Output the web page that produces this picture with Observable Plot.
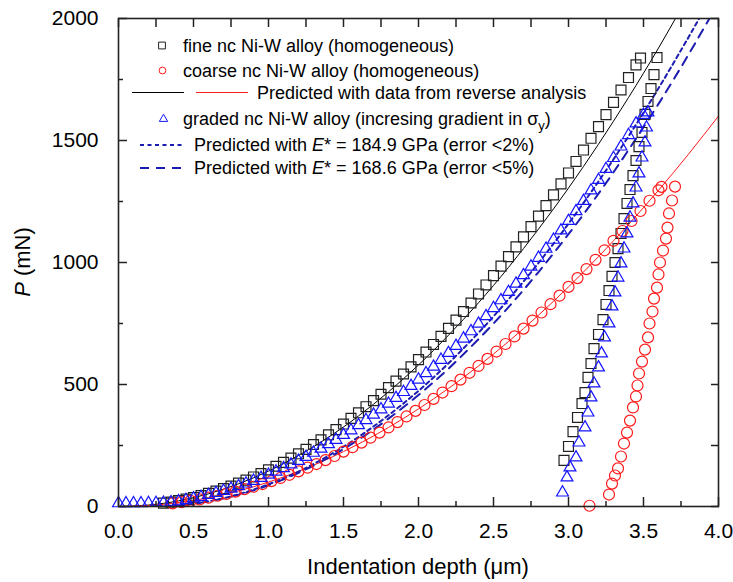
<!DOCTYPE html>
<html><head><meta charset="utf-8">
<script src="https://cdn.jsdelivr.net/npm/d3@7"></script>
<script src="https://cdn.jsdelivr.net/npm/@observablehq/plot@0.6"></script>
<style>
body{margin:0;background:#fff;}
#chart svg{display:block;}
</style></head><body><div id="chart"></div>
<script>
// ---- data: [indentation depth (µm), load P (mN)] ----
const fineLoading = [[0.30,14],[0.35,18],[0.40,24],[0.45,30],[0.50,37],[0.55,45],[0.60,54],[0.65,63],[0.70,73],[0.75,84],[0.80,96],[0.85,108],[0.90,121],[0.95,135],[1.00,150],[1.05,165],[1.10,181],[1.15,198],[1.20,216],[1.25,234],[1.30,254],[1.35,273],[1.40,294],[1.45,315],[1.50,338],[1.55,361],[1.60,384],[1.65,409],[1.70,434],[1.75,460],[1.80,487],[1.85,514],[1.90,543],[1.95,572],[2.00,602],[2.05,633],[2.10,664],[2.15,697],[2.20,730],[2.25,764],[2.30,799],[2.35,834],[2.40,871],[2.45,908],[2.50,946],[2.55,985],[2.60,1024],[2.65,1064],[2.70,1105],[2.75,1147],[2.80,1190],[2.85,1233],[2.90,1277],[2.95,1322],[3.00,1367],[3.05,1414],[3.10,1461],[3.15,1509],[3.20,1557],[3.25,1606],[3.30,1656],[3.35,1707],[3.40,1758],[3.45,1810],[3.48,1838]];
const fineUnloading = [[3.59,1840],[3.57,1770],[3.55,1713],[3.53,1660],[3.51,1607],[3.49,1533],[3.47,1475],[3.45,1418],[3.43,1356],[3.41,1299],[3.39,1242],[3.37,1180],[3.35,1119],[3.33,1057],[3.31,1000],[3.29,943],[3.27,885],[3.25,828],[3.23,766],[3.20,705],[3.17,647],[3.15,586],[3.13,529],[3.11,467],[3.09,422],[3.06,365],[3.03,307],[3.00,246],[2.97,189]];
const coarseLoading = [[0.36,13],[0.42,18],[0.48,23],[0.54,29],[0.60,36],[0.66,44],[0.72,52],[0.78,61],[0.84,71],[0.90,81],[0.96,92],[1.02,104],[1.08,117],[1.14,130],[1.20,144],[1.26,159],[1.32,174],[1.38,190],[1.44,207],[1.50,225],[1.56,243],[1.62,262],[1.68,282],[1.74,303],[1.80,324],[1.86,346],[1.92,369],[1.98,392],[2.04,416],[2.10,441],[2.16,467],[2.22,493],[2.28,520],[2.34,548],[2.40,576],[2.46,605],[2.52,635],[2.58,666],[2.64,697],[2.70,729],[2.76,762],[2.82,795],[2.88,829],[2.94,864],[3.00,900],[3.06,936],[3.12,973],[3.18,1011],[3.24,1050],[3.30,1089],[3.36,1129],[3.42,1170],[3.48,1211],[3.54,1253],[3.60,1296],[3.62,1310]];
const coarseUnloading = [[3.71,1311],[3.69,1254],[3.67,1201],[3.66,1143],[3.65,1098],[3.63,1049],[3.61,1000],[3.60,951],[3.59,897],[3.57,852],[3.56,799],[3.54,750],[3.53,693],[3.51,643],[3.49,594],[3.47,545],[3.46,496],[3.45,451],[3.43,406],[3.41,352],[3.39,303],[3.37,258],[3.35,205],[3.33,156],[3.31,127],[3.29,94],[3.27,49],[3.14,3]];
const gradedLoading = [[0.00,13],[0.05,13],[0.10,13],[0.15,13],[0.20,14],[0.25,14],[0.30,15],[0.35,17],[0.40,21],[0.45,26],[0.50,33],[0.55,39],[0.60,47],[0.65,55],[0.70,64],[0.75,73],[0.80,83],[0.85,94],[0.90,105],[0.95,117],[1.00,130],[1.05,143],[1.10,157],[1.15,172],[1.20,187],[1.25,203],[1.30,220],[1.35,237],[1.40,255],[1.45,273],[1.50,293],[1.55,312],[1.60,333],[1.65,354],[1.70,376],[1.75,398],[1.80,421],[1.85,445],[1.90,469],[1.95,494],[2.00,520],[2.05,546],[2.10,573],[2.15,601],[2.20,629],[2.25,658],[2.30,688],[2.35,718],[2.40,749],[2.45,780],[2.50,813],[2.55,845],[2.60,879],[2.65,913],[2.70,948],[2.75,983],[2.80,1019],[2.85,1056],[2.90,1093],[2.95,1131],[3.00,1170],[3.05,1210],[3.10,1252],[3.15,1295],[3.20,1338],[3.25,1383],[3.30,1428],[3.35,1475],[3.40,1522],[3.45,1570],[3.50,1605]];
const gradedUnloading = [[3.53,1615],[3.52,1553],[3.51,1492],[3.49,1430],[3.47,1365],[3.45,1307],[3.43,1242],[3.41,1184],[3.39,1119],[3.37,1057],[3.35,996],[3.33,938],[3.31,877],[3.29,820],[3.27,750],[3.24,693],[3.22,627],[3.20,570],[3.17,504],[3.15,447],[3.13,385],[3.11,324],[3.07,262],[3.05,201],[3.01,160],[2.99,119],[2.96,57]];
const fineReverse = [[0,0],[0.2,6],[0.4,23],[0.6,52],[0.8,93],[1.0,145],[1.2,209],[1.4,284],[1.6,371],[1.8,470],[2.0,580],[2.2,702],[2.4,835],[2.6,980],[2.8,1137],[3.0,1305],[3.2,1485],[3.4,1676],[3.6,1879],[3.8,2094]];
const coarseReverse = [[0,0],[0.2,4],[0.4,16],[0.6,36],[0.8,64],[1.0,100],[1.2,144],[1.4,196],[1.6,256],[1.8,324],[2.0,400],[2.2,484],[2.4,576],[2.6,676],[2.8,784],[3.0,900],[3.2,1024],[3.4,1156],[3.6,1296],[3.8,1444],[4.0,1600]];
const predE1849 = [[0.22,0],[0.4,5],[0.6,21],[0.8,50],[1.0,91],[1.2,143],[1.4,208],[1.6,285],[1.8,374],[2.0,474],[2.2,587],[2.4,712],[2.6,849],[2.8,998],[3.0,1159],[3.2,1332],[3.4,1517],[3.6,1714],[3.8,1923],[3.9,2032]];
const predE1686 = [[0.22,0],[0.4,5],[0.6,21],[0.8,48],[1.0,87],[1.2,138],[1.4,200],[1.6,274],[1.8,360],[2.0,457],[2.2,565],[2.4,686],[2.6,817],[2.8,961],[3.0,1116],[3.2,1282],[3.4,1461],[3.6,1650],[3.8,1852],[4.0,2065]];
const xMajorTicks = [0, 0.5, 1.0, 1.5, 2.0, 2.5, 3.0, 3.5, 4.0];
const xMinorTicks = [0.25, 0.75, 1.25, 1.75, 2.25, 2.75, 3.25, 3.75];
const yMajorTicks = [0, 500, 1000, 1500, 2000];
const yMinorTicks = [250, 750, 1250, 1750];
const legendLabels = [
  "fine nc Ni-W alloy (homogeneous)",
  "coarse nc Ni-W alloy (homogeneous)",
  "Predicted with data from reverse analysis",
  "graded nc Ni-W alloy (incresing gradient in σ",
  "* = 184.9 GPa (error <2%)",
  "* = 168.6 GPa (error <5%)"
];

const BLUE = "#1c1cb0", RED = "#ff1a1a", DARK = "#222";
const X = d => d[0], Y = d => d[1];
const font = "'Liberation Sans', Arial, sans-serif";

const plot = Plot.plot({
  width: 733, height: 582,
  marginLeft: 118, marginRight: 15, marginTop: 18, marginBottom: 76,
  style: {fontFamily: font, background: "#fff", color: "#000"},
  x: {domain: [0, 4]},
  y: {domain: [0, 2000]},
  marks: [
    Plot.line(fineReverse, {x: X, y: Y, stroke: "#000", strokeWidth: 1, curve: "natural", clip: true}),
    Plot.line(coarseReverse, {x: X, y: Y, stroke: RED, strokeWidth: 1, curve: "natural", clip: true}),
    Plot.line(predE1849, {x: X, y: Y, stroke: BLUE, strokeWidth: 2, strokeDasharray: "4,3.5", curve: "natural", clip: true}),
    Plot.line(predE1686, {x: X, y: Y, stroke: BLUE, strokeWidth: 2, strokeDasharray: "9,7", curve: "natural", clip: true}),
    Plot.dot(fineLoading.concat(fineUnloading), {x: X, y: Y, symbol: "square", r: 5.6, stroke: DARK, strokeWidth: 1.2, fill: "none"}),
    Plot.dot(coarseLoading.concat(coarseUnloading), {x: X, y: Y, symbol: "circle", r: 5.5, stroke: RED, strokeWidth: 1.2, fill: "none"}),
    Plot.dot(gradedLoading.concat(gradedUnloading), {x: X, y: Y, symbol: "triangle", r: 4.4, stroke: "#1414ff", strokeWidth: 1.2, fill: "none"}),
    Plot.frame({stroke: DARK, strokeWidth: 1.6}),
    Plot.axisX(xMajorTicks, {anchor: "bottom", tickSize: -9, tickPadding: 26, tickFormat: d3.format(".1f"), fontSize: 21, stroke: DARK, strokeWidth: 1.5, label: null}),
    Plot.axisX(xMinorTicks, {anchor: "bottom", tickSize: -5, fill: "none", stroke: DARK, strokeWidth: 1.5, label: null}),
    Plot.axisX(xMajorTicks, {anchor: "top", tickSize: -8, fill: "none", stroke: DARK, strokeWidth: 1.5, label: null}),
    Plot.axisX(xMinorTicks, {anchor: "top", tickSize: -8, fill: "none", stroke: DARK, strokeWidth: 1.5, label: null}),
    Plot.axisY(yMajorTicks, {anchor: "left", tickSize: -9, tickPadding: 29, tickFormat: d3.format("d"), fontSize: 21, stroke: DARK, strokeWidth: 1.5, label: null}),
    Plot.axisY(yMinorTicks, {anchor: "left", tickSize: -5, fill: "none", stroke: DARK, strokeWidth: 1.5, label: null}),
    Plot.axisY(yMajorTicks, {anchor: "right", tickSize: -8, fill: "none", stroke: DARK, strokeWidth: 1.5, label: null}),
    Plot.axisY(yMinorTicks, {anchor: "right", tickSize: -8, fill: "none", stroke: DARK, strokeWidth: 1.5, label: null})
  ]
});
document.getElementById("chart").appendChild(plot);

// ---- axis titles and in-plot legend ----
const svg = d3.select(plot);
const g = svg.append("g").attr("font-family", font).attr("fill", "#000");

g.append("text").attr("x", 418).attr("y", 566).attr("dy", "0.35em")
  .attr("text-anchor", "middle").attr("font-size", 22).text("Indentation depth (μm)");
const yt = g.append("text").attr("transform", "translate(22,262) rotate(-90)").attr("dy", "0.35em")
  .attr("text-anchor", "middle").attr("font-size", 22);
yt.append("tspan").attr("font-style", "italic").text("P");
yt.append("tspan").text(" (mN)");

const lg = g.append("g").attr("font-size", 18).attr("text-anchor", "start");
// markers
lg.append("path").attr("d", d3.symbol(d3.symbolSquare, 46)()).attr("transform", "translate(162,45.5)")
  .attr("fill", "none").attr("stroke", DARK).attr("stroke-width", 1);
lg.append("circle").attr("cx", 162.5).attr("cy", 70.5).attr("r", 3.4)
  .attr("fill", "none").attr("stroke", RED).attr("stroke-width", 1);
lg.append("path").attr("d", d3.symbol(d3.symbolTriangle, 30)()).attr("transform", "translate(163.5,119)")
  .attr("fill", "none").attr("stroke", "#1414ff").attr("stroke-width", 1);
lg.append("line").attr("x1", 132).attr("x2", 184).attr("y1", 92.5).attr("y2", 92.5).attr("stroke", "#000").attr("stroke-width", 1);
lg.append("line").attr("x1", 196).attr("x2", 248).attr("y1", 92.5).attr("y2", 92.5).attr("stroke", RED).attr("stroke-width", 1);
lg.append("line").attr("x1", 140).attr("x2", 184).attr("y1", 145).attr("y2", 145).attr("stroke", BLUE).attr("stroke-width", 2).attr("stroke-dasharray", "4,3.5");
lg.append("line").attr("x1", 140).attr("x2", 184).attr("y1", 168).attr("y2", 168).attr("stroke", BLUE).attr("stroke-width", 2).attr("stroke-dasharray", "9,7");
// texts
const addText = (x, y) => lg.append("text").attr("x", x).attr("y", y).attr("dy", "0.35em").attr("text-anchor", "start");
addText(183, 45.5).text(legendLabels[0]);
addText(183, 70.5).text(legendLabels[1]);
addText(257, 93).text(legendLabels[2]);
const t4 = addText(183, 119);
t4.append("tspan").text(legendLabels[3]);
t4.append("tspan").attr("font-size", 13).attr("dy", 5).text("y");
t4.append("tspan").attr("dy", -5).text(")");
const t5 = addText(194, 145);
t5.append("tspan").text("Predicted with ");
t5.append("tspan").attr("font-style", "italic").text("E");
t5.append("tspan").text(legendLabels[4]);
const t6 = addText(194, 168);
t6.append("tspan").text("Predicted with ");
t6.append("tspan").attr("font-style", "italic").text("E");
t6.append("tspan").text(legendLabels[5]);
</script>
</body></html>
